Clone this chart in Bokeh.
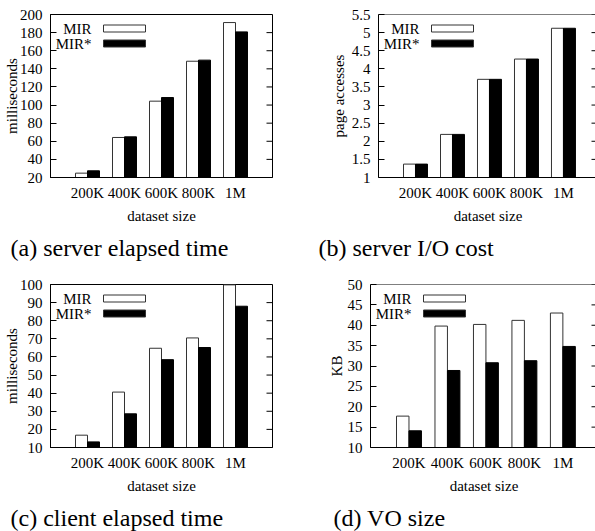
import numpy as np
from bokeh.plotting import figure
from bokeh.models import Range1d, LinearAxis, FixedTicker, Label, NumeralTickFormatter, ColumnDataSource, Span, Title
from bokeh.transform import dodge
from bokeh.layouts import column, row
from bokeh.embed import file_html
from bokeh.resources import INLINE

FONT = "Liberation Serif"

datasets = ["200K", "400K", "600K", "800K", "1M"]
series = ["MIR", "MIR*"]

a_mir = [24.8, 64.2, 104.3, 148.4, 191.1]
a_mirs = [27.4, 64.9, 108.3, 149.6, 180.8]
b_mir = [1.37, 2.19, 3.71, 4.27, 5.12]
b_mirs = [1.37, 2.19, 3.71, 4.27, 5.12]
c_mir = [16.8, 40.6, 64.8, 70.5, 99.8]
c_mirs = [13.1, 28.6, 58.5, 65.2, 88.0]
d_mir = [17.7, 39.8, 40.2, 41.2, 43.0]
d_mirs = [14.1, 28.9, 30.8, 31.3, 34.8]

a_yticks = [20, 40, 60, 80, 100, 120, 140, 160, 180, 200]
b_yticks = [1, 1.5, 2, 2.5, 3, 3.5, 4, 4.5, 5, 5.5]
c_yticks = [10, 20, 30, 40, 50, 60, 70, 80, 90, 100]
d_yticks = [10, 15, 20, 25, 30, 35, 40, 45, 50]

FRAME_H = 163


def make_panel(mir, mirs, yticks, ylabel, caption, cap_dx, frame_w, x_hi,
               bl, br, bt, bb, closed, lab_standoff):
    y_lo, y_hi = yticks[0], yticks[-1]
    p = figure(frame_width=frame_w, frame_height=FRAME_H,
               x_range=Range1d(-1, x_hi), y_range=Range1d(y_lo, y_hi),
               output_backend="svg", toolbar_location=None, tools="",
               x_axis_type=None, y_axis_type=None,
               min_border_left=bl, min_border_right=br,
               min_border_top=bt, min_border_bottom=bb,
               background_fill_color="white", border_fill_color="white")
    p.outline_line_color = "black" if closed else None
    p.outline_line_width = 1

    idx = list(range(len(datasets)))
    src = ColumnDataSource(dict(x=idx, mir=mir, mirs=mirs))

    ya = LinearAxis(ticker=FixedTicker(ticks=yticks),
                    formatter=NumeralTickFormatter(format="0.[0]"),
                    axis_label=ylabel,
                    major_tick_in=6, major_tick_out=0,
                    minor_tick_line_color=None,
                    major_label_standoff=8, axis_label_standoff=lab_standoff,
                    major_label_text_font=FONT, major_label_text_font_size="15px",
                    major_label_text_color="black",
                    axis_label_text_font=FONT, axis_label_text_font_size="15px",
                    axis_label_text_font_style="normal", axis_label_text_color="black",
                    axis_line_color="black", major_tick_line_color="black")
    p.add_layout(ya, "left")

    xa = LinearAxis(ticker=FixedTicker(ticks=idx),
                    major_label_overrides={i: d for i, d in enumerate(datasets)},
                    axis_label="dataset size",
                    major_tick_in=0, major_tick_out=0,
                    minor_tick_line_color=None,
                    major_label_standoff=7, axis_label_standoff=4,
                    major_label_text_font=FONT, major_label_text_font_size="15px",
                    major_label_text_color="black",
                    axis_label_text_font=FONT, axis_label_text_font_size="15px",
                    axis_label_text_font_style="normal", axis_label_text_color="black",
                    axis_line_color="black")
    p.add_layout(xa, "below")

    if not closed:
        p.add_layout(Span(location=y_hi, dimension="width", line_color="black", line_width=1))

    # mirror ticks on the right edge
    p.ray(x=[x_hi] * len(yticks), y=yticks, length=6, length_units="screen",
          angle=np.pi, line_color="black", line_width=1)

    p.vbar(x=dodge("x", -0.162, range=p.x_range), top="mir", bottom=0, width=0.324,
           source=src, fill_color="white", line_color="#333333", line_width=1)
    p.vbar(x=dodge("x", 0.162, range=p.x_range), top="mirs", bottom=0, width=0.324,
           source=src, fill_color="black", line_color="black", line_width=1)

    # legend (gnuplot style: text then sample box)
    def fx(px):
        return -1 + px * (x_hi + 1) / frame_w

    def fy(px):
        return y_hi - px * (y_hi - y_lo) / FRAME_H

    fills = ["white", "black"]
    for k, name in enumerate(series):
        cy = 14 + 15 * k
        p.add_layout(Label(x=fx(41), y=fy(cy), text=name, text_align="right",
                           text_baseline="middle", text_font=FONT,
                           text_font_size="15px", text_color="black"))
        p.quad(left=[fx(53)], right=[fx(95)], top=[fy(cy - 3.5)], bottom=[fy(cy + 3.5)],
               fill_color=fills[k], line_color="#333333", line_width=1)

    t = Title(text=caption, align="left", offset=cap_dx, standoff=12,
              text_font=FONT, text_font_size="24px", text_font_style="normal",
              text_color="black")
    p.add_layout(t, "below")
    return p


pa = make_panel(a_mir, a_mirs, a_yticks, "milliseconds", "(a) server elapsed time", -40,
                222, 5, 47, 40, 14, 93, True, -3)
pb = make_panel(b_mir, b_mirs, b_yticks, "page accesses", "(b) server I/O cost", -60,
                219, 4.92, 66, 0, 14, 93, False, 2)
pc = make_panel(c_mir, c_mirs, c_yticks, "milliseconds", "(c) client elapsed time", -40,
                222, 5, 47, 45, 14, 83, True, -3)
pd = make_panel(d_mir, d_mirs, d_yticks, "KB", "(d) VO size", -37,
                227, 4.9, 53, 0, 14, 83, False, 0)

layout = column(row(pa, pb), row(pc, pd))

open("out.html", "w").write(file_html(layout, INLINE))
